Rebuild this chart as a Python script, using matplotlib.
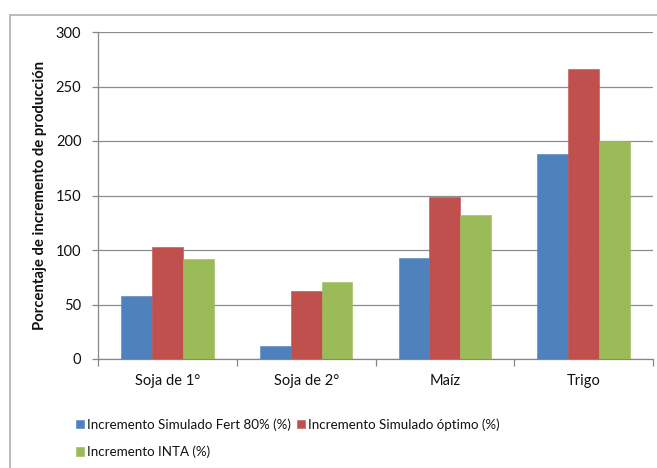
import matplotlib
matplotlib.use("Agg")
import matplotlib.pyplot as plt
import numpy as np
from matplotlib.patches import Rectangle

categories = ["Soja de 1°", "Soja de 2°", "Maíz", "Trigo"]
fert80 = [58, 12, 93, 188]
optimo = [103, 62, 149, 266]
inta = [92, 71, 132, 200]
series_labels = ["Incremento Simulado Fert 80% (%)",
                 "Incremento Simulado óptimo (%)",
                 "Incremento INTA (%)"]
series_colors = ["#4F81BD", "#C0504D", "#9BBB59"]
y_ticks = [0, 50, 100, 150, 200, 250, 300]

plt.rcParams["font.family"] = ["Lato", "DejaVu Sans"]

W, H = 657, 468
fig = plt.figure(figsize=(W / 100, H / 100), dpi=100)

# light frame around the chart area
fig.patches.append(Rectangle((10 / W, -0.1), 1.2, (H - 15) / H + 0.1,
                             transform=fig.transFigure, fill=False,
                             edgecolor="#b5b5b5", linewidth=1.3))

ax = fig.add_axes([98 / W, 1 - 359 / H, (653 - 98) / W, (359 - 32) / H])

x = np.arange(len(categories))
bw = 1 / 4.5
for i, (vals, col, lab) in enumerate(zip([fert80, optimo, inta], series_colors, series_labels)):
    ax.bar(x + (i - 1) * bw, vals, width=bw, color=col, label=lab,
           edgecolor=col, linewidth=0.4, zorder=3)

ax.set_xlim(-0.5, len(categories) - 0.5)
ax.set_ylim(0, 300)
ax.set_yticks(y_ticks)
ax.yaxis.grid(True, color="#8c8c8c", linewidth=0.9, zorder=0)
ax.set_axisbelow(True)

for s in ["top", "right"]:
    ax.spines[s].set_visible(False)
for s in ["left", "bottom"]:
    ax.spines[s].set_color("#868686")
    ax.spines[s].set_linewidth(0.9)

ax.tick_params(axis="y", direction="out", length=4, width=0.9, color="#868686",
               labelsize=10.5, pad=8, labelcolor="#111111")
ax.set_xticks(np.arange(len(categories) + 1) - 0.5)
ax.set_xticklabels([])
ax.tick_params(axis="x", which="major", direction="out", length=5, width=0.9, color="#868686")
ax.set_xticks(x, minor=True)
ax.set_xticklabels(categories, minor=True)
ax.tick_params(axis="x", which="minor", length=0, labelsize=10.5, pad=11, labelcolor="#111111")

fig.text(40 / W, 1 - 195.5 / H, "Porcentaje de incremento de producción",
         rotation=90, ha="center", va="center", fontsize=10.7, fontweight="bold",
         color="#111111")

h, l = ax.get_legend_handles_labels()
order = [0, 2, 1]
leg = fig.legend([h[k] for k in order], [l[k] for k in order], ncol=2,
                 loc="upper left", bbox_to_anchor=(76 / W, 1 - 418 / H),
                 frameon=False, fontsize=9.6, handlelength=0.6, handleheight=0.6,
                 handletextpad=0.2, columnspacing=0.5, labelspacing=1.15,
                 borderaxespad=0, borderpad=0)
for t in leg.get_texts():
    t.set_color("#111111")

fig.savefig("out.png", dpi=100)
